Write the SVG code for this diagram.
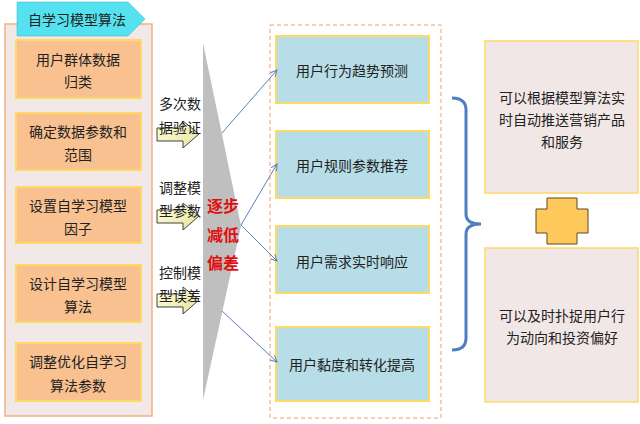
<svg xmlns="http://www.w3.org/2000/svg" width="640" height="424" viewBox="0 0 640 424">
<style>
text{font-family:"Microsoft YaHei","Noto Sans CJK SC",sans-serif;font-size:14px;fill:#222;text-anchor:middle;dominant-baseline:central}
.step{fill:#F9C18F;stroke:#FFD966;stroke-width:2}
.res{fill:#B7DDE8;stroke:#FFD966;stroke-width:2}
.out{fill:#F2E7E7;stroke:#FFD966;stroke-width:1.5}
.lbl{text-anchor:start}
.red{fill:#E01010;font-weight:bold;font-size:16px}
.conn{stroke:#5A80B8;stroke-width:1;fill:none;marker-end:url(#ah)}
.barrow{fill:url(#yg);stroke:#404040;stroke-width:1}
</style>
<defs>
<marker id="ah" viewBox="0 0 10 10" refX="9" refY="5" markerWidth="8" markerHeight="8" orient="auto" markerUnits="userSpaceOnUse">
<path d="M1,1 L9,5 L1,9" fill="none" stroke="#5A80B8" stroke-width="1.2"/>
</marker>
<linearGradient id="yg" x1="0" y1="0" x2="1" y2="1">
<stop offset="0" stop-color="#FFFFE0"/>
<stop offset="1" stop-color="#E4E49C"/>
</linearGradient>
</defs>
<rect width="640" height="424" fill="#fff"/>

<g id="left-panel">
<rect x="5" y="24" width="147" height="392" fill="#F2E8E8" stroke="#F4B183" stroke-width="1.5"/>
</g>
<g id="title">
<polygon points="17,2 128,2 145,19 128,36 17,36" fill="#55E2F0" stroke="#3AB0C0" stroke-width="0.5"/>
<text x="77" y="19">自学习模型算法</text>
</g>
<g id="step1"><rect class="step" x="16" y="40" width="125" height="58"/><text x="78" y="59">用户群体数据</text><text x="78" y="81">归类</text></g>
<g id="step2"><rect class="step" x="16" y="113" width="125" height="57"/><text x="78" y="131">确定数据参数和</text><text x="78" y="154">范围</text></g>
<g id="step3"><rect class="step" x="16" y="187" width="125" height="56"/><text x="78" y="205">设置自学习模型</text><text x="78" y="228">因子</text></g>
<g id="step4"><rect class="step" x="16" y="265" width="125" height="57"/><text x="78" y="283">设计自学习模型</text><text x="78" y="306">算法</text></g>
<g id="step5"><rect class="step" x="16" y="343" width="125" height="58"/><text x="78" y="361">调整优化自学习</text><text x="78" y="385">算法参数</text></g>

<g id="funnel">
<polygon points="203,43 241,226 203,400" fill="#BFBFBF"/>
<text class="red" x="223" y="205">逐步</text>
<text class="red" x="223" y="234">减低</text>
<text class="red" x="223" y="262">偏差</text>
</g>

<g id="block-arrows">
<polygon class="barrow" points="157,128 183,128 183,121 199,134 183,148 183,141 157,141"/>
<polygon class="barrow" points="157,210 183,210 183,203 199,216 183,230 183,223 157,223"/>
<polygon class="barrow" points="157,294 183,294 183,287 199,300 183,314 183,307 157,307"/>
</g>
<g id="labels">
<text class="lbl" x="159" y="103">多次数</text><text class="lbl" x="159" y="127">据验证</text>
<text class="lbl" x="159" y="187">调整模</text><text class="lbl" x="159" y="210">型参数</text>
<text class="lbl" x="159" y="272">控制模</text><text class="lbl" x="159" y="295">型误差</text>
</g>

<g id="result-group">
<rect x="270" y="25" width="171" height="393" fill="none" stroke="#F0A070" stroke-width="1" stroke-dasharray="4,3"/>
</g>
<g id="res1"><rect class="res" x="276" y="36" width="153" height="67"/><text x="352" y="70">用户行为趋势预测</text></g>
<g id="res2"><rect class="res" x="276" y="131" width="153" height="67"/><text x="352" y="165">用户规则参数推荐</text></g>
<g id="res3"><rect class="res" x="276" y="226" width="153" height="67"/><text x="352" y="261">用户需求实时响应</text></g>
<g id="res4"><rect class="res" x="276" y="327" width="153" height="74"/><text x="352" y="364">用户黏度和转化提高</text></g>

<g id="connectors">
<line class="conn" x1="222" y1="133" x2="277" y2="70"/>
<line class="conn" x1="241" y1="225" x2="277" y2="164"/>
<line class="conn" x1="241" y1="225" x2="277" y2="261"/>
<line class="conn" x1="222" y1="311" x2="277" y2="362"/>
<path d="M452,98 Q466,98 466,110 L466,214 Q466,224 481,224 Q466,224 466,234 L466,338 Q466,350 452,350" fill="none" stroke="#4F7FBF" stroke-width="3"/>
</g>

<g id="out1"><rect class="out" x="485" y="41" width="153" height="152"/><text x="562" y="97">可以根据模型算法实</text><text x="562" y="119">时自动推送营销产品</text><text x="562" y="141">和服务</text></g>
<g id="plus"><polygon points="547,198 577,198 577,209 588,209 588,233 577,233 577,244 547,244 547,233 536,233 536,209 547,209" fill="#FFC85A" stroke="#5A4A20" stroke-width="1"/></g>
<g id="out2"><rect class="out" x="485" y="248" width="153" height="154"/><text x="562" y="315">可以及时扑捉用户行</text><text x="562" y="337">为动向和投资偏好</text></g>
</svg>
